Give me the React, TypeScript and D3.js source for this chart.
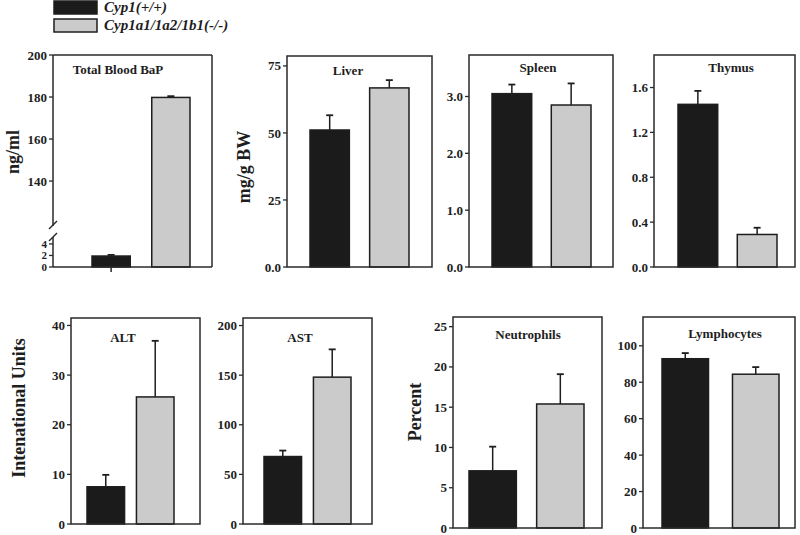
import React from "react";
import * as d3 from "d3";

// ---------------- data ----------------
const groups = ["Cyp1(+/+)", "Cyp1a1/1a2/1b1(-/-)"];
const panelTitles = ["Total Blood BaP", "Liver", "Spleen", "Thymus", "ALT", "AST", "Neutrophils", "Lymphocytes"];
const wildTypeMeans = [1.9, 51.1, 3.05, 1.45, 7.5, 68, 7.1, 92.9];
const wildTypeSE = [0.2, 5.5, 0.16, 0.12, 2.4, 6, 3.0, 3.1];
const knockoutMeans = [179.8, 66.8, 2.85, 0.29, 25.6, 148, 15.4, 84.4];
const knockoutSE = [0.6, 2.9, 0.38, 0.06, 11.3, 28, 3.7, 3.9];
const yTickValues = [
  [0, 2, 4, 140, 160, 180, 200],
  [0, 25, 50, 75],
  [0, 1, 2, 3],
  [0, 0.4, 0.8, 1.2, 1.6],
  [0, 10, 20, 30, 40],
  [0, 50, 100, 150, 200],
  [0, 5, 10, 15, 20, 25],
  [0, 20, 40, 60, 80, 100],
];
const yTickLabels = [
  ["0", "2", "4", "140", "160", "180", "200"],
  ["0.0", "25", "50", "75"],
  ["0.0", "1.0", "2.0", "3.0"],
  ["0.0", "0.4", "0.8", "1.2", "1.6"],
  ["0", "10", "20", "30", "40"],
  ["0", "50", "100", "150", "200"],
  ["0", "5", "10", "15", "20", "25"],
  ["0", "20", "40", "60", "80", "100"],
];
const yAxisTitles = ["ng/ml", "mg/g BW", "", "", "Intenational Units", "", "Percent", ""];

// ---------------- layout ----------------
type Layout = {
  x0: number; x1: number; y0: number; y1: number; ymax: number;
  b0: number; b1: number; pad: number; tx: number; ty: number;
};
const layout: Layout[] = [
  { x0: 53, x1: 212, y0: 55, y1: 267, ymax: 200, b0: 92, b1: 190, pad: 0.36, tx: 118, ty: 74 },
  { x0: 287, x1: 432, y0: 56, y1: 267, ymax: 78.7, b0: 310, b1: 409, pad: 0.34, tx: 348, ty: 75 },
  { x0: 469, x1: 613, y0: 55, y1: 267, ymax: 3.73, b0: 492, b1: 591, pad: 0.33, tx: 538, ty: 72 },
  { x0: 654, x1: 795, y0: 55, y1: 267, ymax: 1.89, b0: 678, b1: 777, pad: 0.33, tx: 731, ty: 72 },
  { x0: 71, x1: 200, y0: 318, y1: 524, ymax: 41.5, b0: 87, b1: 174, pad: 0.24, tx: 123, ty: 342 },
  { x0: 243, x1: 372, y0: 318, y1: 524, ymax: 207.6, b0: 264, b1: 351, pad: 0.24, tx: 300, ty: 342 },
  { x0: 453, x1: 602, y0: 317, y1: 528, ymax: 26.2, b0: 469, b1: 584, pad: 0.3, tx: 528, ty: 339 },
  { x0: 643, x1: 795, y0: 317, y1: 528, ymax: 115.8, b0: 662, b1: 779, pad: 0.34, tx: 725, ty: 338 },
];
const axisTitlePos = [
  { x: 19, y: 152 },
  { x: 250, y: 167 },
  null,
  null,
  { x: 25, y: 408 },
  null,
  { x: 421, y: 412 },
  null,
];

const FONT = "'Liberation Serif', 'Times New Roman', serif";
const INK = "#1e1e1e";
const FILLS = ["#1b1b1b", "#cbcbcb"];

function Panel({ i }: { i: number }) {
  const L = layout[i];
  const broken = i === 0;
  const x = d3.scaleBand<string>().domain(groups).range([L.b0, L.b1]).paddingInner(L.pad).paddingOuter(0);

  // broken axis for panel 0
  const breakTop = 226;
  const breakBottom = 237;
  const yUpper = d3.scaleLinear().domain([118.6, 200]).range([breakTop, L.y0]);
  const yLower = d3.scaleLinear().domain([0, 5.2]).range([L.y1, breakBottom]);
  const yLin = d3.scaleLinear().domain([0, L.ymax]).range([L.y1, L.y0]);
  const y = (v: number) => (broken ? (v > 10 ? yUpper(v) : yLower(v)) : yLin(v));

  const means = [wildTypeMeans[i], knockoutMeans[i]];
  const ses = [wildTypeSE[i], knockoutSE[i]];

  return (
    <g>
      {/* bars */}
      {groups.map((g, k) => {
        const bx = x(g)!;
        const bw = x.bandwidth();
        const top = y(means[k]);
        const et = y(means[k] + ses[k]);
        const cx = bx + bw / 2;
        return (
          <g key={g}>
            <line x1={cx} x2={cx} y1={top} y2={et} stroke={INK} strokeWidth={1.5} />
            <line x1={cx - 3.5} x2={cx + 3.5} y1={et} y2={et} stroke={INK} strokeWidth={1.8} />
            <rect x={bx} y={top} width={bw} height={L.y1 - top} fill={FILLS[k]} stroke={INK} strokeWidth={1.5} />
          </g>
        );
      })}
      {/* frame */}
      {broken ? (
        <g stroke="#2a2a2a" strokeWidth={1.5} fill="none">
          <line x1={L.x0} x2={L.x1} y1={L.y0} y2={L.y0} />
          <line x1={L.x1} x2={L.x1} y1={L.y0} y2={L.y1} />
          <line x1={L.x0} x2={L.x1} y1={L.y1} y2={L.y1} />
          <line x1={L.x0} x2={L.x0} y1={L.y0} y2={breakTop} />
          <line x1={L.x0} x2={L.x0} y1={breakBottom} y2={L.y1} />
          <line x1={L.x0 - 4} x2={L.x0 + 4} y1={breakTop + 3} y2={breakTop - 5} />
          <line x1={L.x0 - 4} x2={L.x0 + 4} y1={breakBottom + 4} y2={breakBottom - 4} />
          <line x1={x.bandwidth() / 2 + x(groups[0])!} x2={x.bandwidth() / 2 + x(groups[0])!} y1={L.y1} y2={L.y1 + 5} />
        </g>
      ) : (
        <rect x={L.x0} y={L.y0} width={L.x1 - L.x0} height={L.y1 - L.y0} fill="none" stroke="#2a2a2a" strokeWidth={1.5} />
      )}
      {/* ticks */}
      {yTickValues[i].map((v, t) => {
        const small = broken && v < 10;
        return (
          <g key={t} transform={`translate(${L.x0},${y(v)})`}>
            <line x1={-4} x2={0} stroke="#2a2a2a" strokeWidth={1.3} />
            <text
              x={-6}
              dy="0.35em"
              textAnchor="end"
              fontFamily={FONT}
              fontWeight="bold"
              fontSize={small ? 11 : 13}
              fill={INK}
            >
              {yTickLabels[i][t]}
            </text>
          </g>
        );
      })}
      {/* title */}
      <text x={L.tx} y={L.ty} textAnchor="middle" fontFamily={FONT} fontWeight="bold" fontSize={13} fill={INK}>
        {panelTitles[i]}
      </text>
      {/* axis title */}
      {axisTitlePos[i] && (
        <text
          transform={`translate(${axisTitlePos[i]!.x},${axisTitlePos[i]!.y}) rotate(-90)`}
          textAnchor="middle"
          fontFamily={FONT}
          fontWeight="bold"
          fontSize={18}
          fill={INK}
        >
          {yAxisTitles[i]}
        </text>
      )}
    </g>
  );
}

export default function App() {
  return (
    <svg width={800} height={535} style={{ position: "absolute", left: 0, top: 0, background: "#fff" }}>
      <rect width={800} height={535} fill="#fff" />
      {/* legend */}
      {groups.map((g, k) => (
        <g key={g}>
          <rect x={54} y={1 + k * 18} width={43} height={13} fill={FILLS[k]} stroke={INK} strokeWidth={1.5} />
          <text x={104} y={12 + k * 18} fontFamily={FONT} fontWeight="bold" fontStyle="italic" fontSize={15} fill={INK}>
            {g}
          </text>
        </g>
      ))}
      {panelTitles.map((_, i) => (
        <Panel key={i} i={i} />
      ))}
    </svg>
  );
}
